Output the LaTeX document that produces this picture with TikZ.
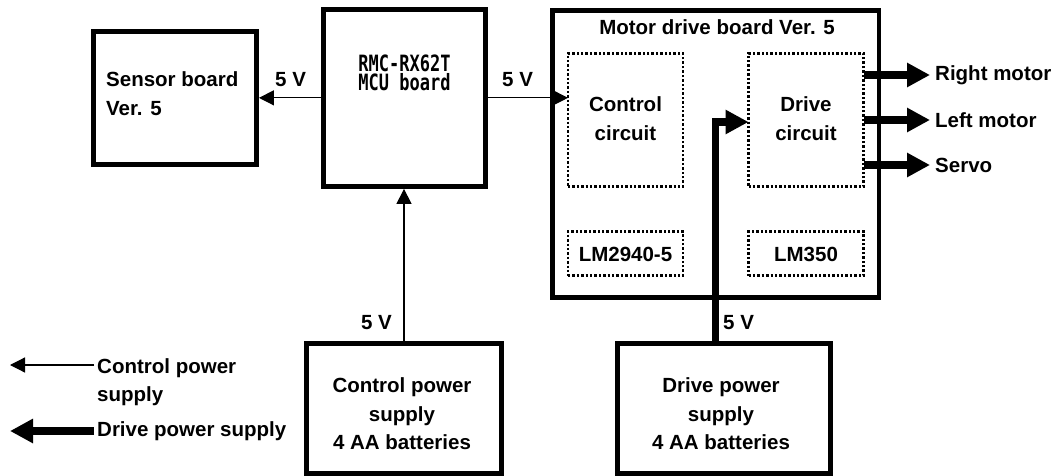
\documentclass[tikz,border=0pt]{standalone}
\usepackage{fontspec}
\setmainfont{Liberation Sans}
\newfontfamily\monofnt{DejaVu Sans Mono}
\usetikzlibrary{arrows.meta}
\begin{document}
\begin{tikzpicture}[x=1pt,y=-1pt,
  every node/.style={font=\fontsize{20.5pt}{28.5pt}\selectfont\bfseries, inner sep=0pt},
  box/.style={draw, line width=4.8pt},
  dotbox/.style={draw, line width=2.8pt, dash pattern=on 2.4pt off 2pt, outer sep=0pt},
  thinarr/.style={line width=1.2pt, -{Triangle[length=15pt,width=15pt]}},
  thickarr/.style={line width=7.5pt, -{Triangle[length=23pt,width=23pt]}},
  lbl/.style={anchor=north, align=center},
]
\useasboundingbox (0,0) rectangle (1059,476);

% main boxes
\node[box, minimum width=163.3pt, minimum height=132.7pt] (sensor) at (174.9,97.85) {};
\node[box, minimum width=162.5pt, minimum height=177.3pt] (mcu) at (404.45,97.85) {};
\node[box, minimum width=326.5pt, minimum height=287pt] (motor) at (715.75,154) {};
\node[box, minimum width=195pt, minimum height=130.3pt] (csup) at (404,408.35) {};
\node[box, minimum width=212.7pt, minimum height=130.3pt] (dsup) at (723.85,408.35) {};

% dotted sub-blocks
\node[dotbox, minimum width=115pt, minimum height=133pt] (ctrlc) at (625.5,120) {};
\node[dotbox, minimum width=115pt, minimum height=133pt] (drvc) at (806,120) {};
\node[dotbox, minimum width=115pt, minimum height=44pt] (lm29) at (625.5,253.5) {};
\node[dotbox, minimum width=115pt, minimum height=44pt] (lm35) at (806,253.5) {};

% texts
\node[anchor=north west, align=left] (sensortxt) at (106,71.7) {Sensor board\\Ver. 5};
\node[anchor=north] (mcutxt1) at (404.5,55) {\scalebox{1}[1.32]{\monofnt\fontsize{17pt}{17pt}\selectfont RMC-RX62T}};
\node[anchor=north] (mcutxt2) at (404.5,73.5) {\scalebox{1}[1.32]{\monofnt\fontsize{17pt}{17pt}\selectfont MCU board}};
\node[lbl] (motortxt) at (717,19.5) {Motor drive board Ver. 5};
\node[lbl] (ctrltxt) at (625.5,96.7) {Control\\circuit};
\node[lbl] (drvtxt) at (806,96.7) {Drive\\circuit};
\node[lbl] (lm29txt) at (625.5,246.7) {LM2940-5};
\node[lbl] (lm35txt) at (806,246.7) {LM350};
\node[lbl] (csuptxt) at (402,377.5) {Control power\\supply\\4 AA batteries};
\node[lbl] (dsuptxt) at (721,377.5) {Drive power\\supply\\4 AA batteries};

% voltage labels
\node[anchor=north west] (v1) at (275,71.7) {5 V};
\node[anchor=north west] (v2) at (502,71.7) {5 V};
\node[anchor=north east] (v3) at (392,315) {5 V};
\node[anchor=north west] (v4) at (723,315) {5 V};

% output labels
\node[anchor=west, inner xsep=5pt] (rm) at (930,75) {Right motor};
\node[anchor=west, inner xsep=5pt] (lmot) at (930,120) {Left motor};
\node[anchor=west, inner xsep=5pt] (servo) at (930,165) {Servo};

% legend
\node[anchor=north west, align=left] (legc) at (97,358) {Control power\\supply};
\node[anchor=west] (legd) at (97,431) {Drive power supply};
\coordinate (legcs) at (94,365);
\coordinate (legce) at (10,365);
\coordinate (legds) at (94,431);
\coordinate (legde) at (10,431);

% connectors
\draw[thinarr] (mcu.west) -- (sensor.east);
\draw[thinarr] (mcu.east) -- (mcu.east -| ctrlc.west);
\draw[thinarr] (csup.north) -- (csup.north |- mcu.south);
\coordinate (dj) at (715.5,122);
\draw[thickarr] (dj |- dsup.north) -- (dj) -- (dj -| drvc.west);
\draw[thickarr] (rm.west -| drvc.east) -- (rm.west);
\draw[thickarr] (lmot.west -| drvc.east) -- (lmot.west);
\draw[thickarr] (servo.west -| drvc.east) -- (servo.west);
\draw[thinarr] (legcs) -- (legce);
\draw[thickarr] (legds) -- (legde);
\end{tikzpicture}
\end{document}
